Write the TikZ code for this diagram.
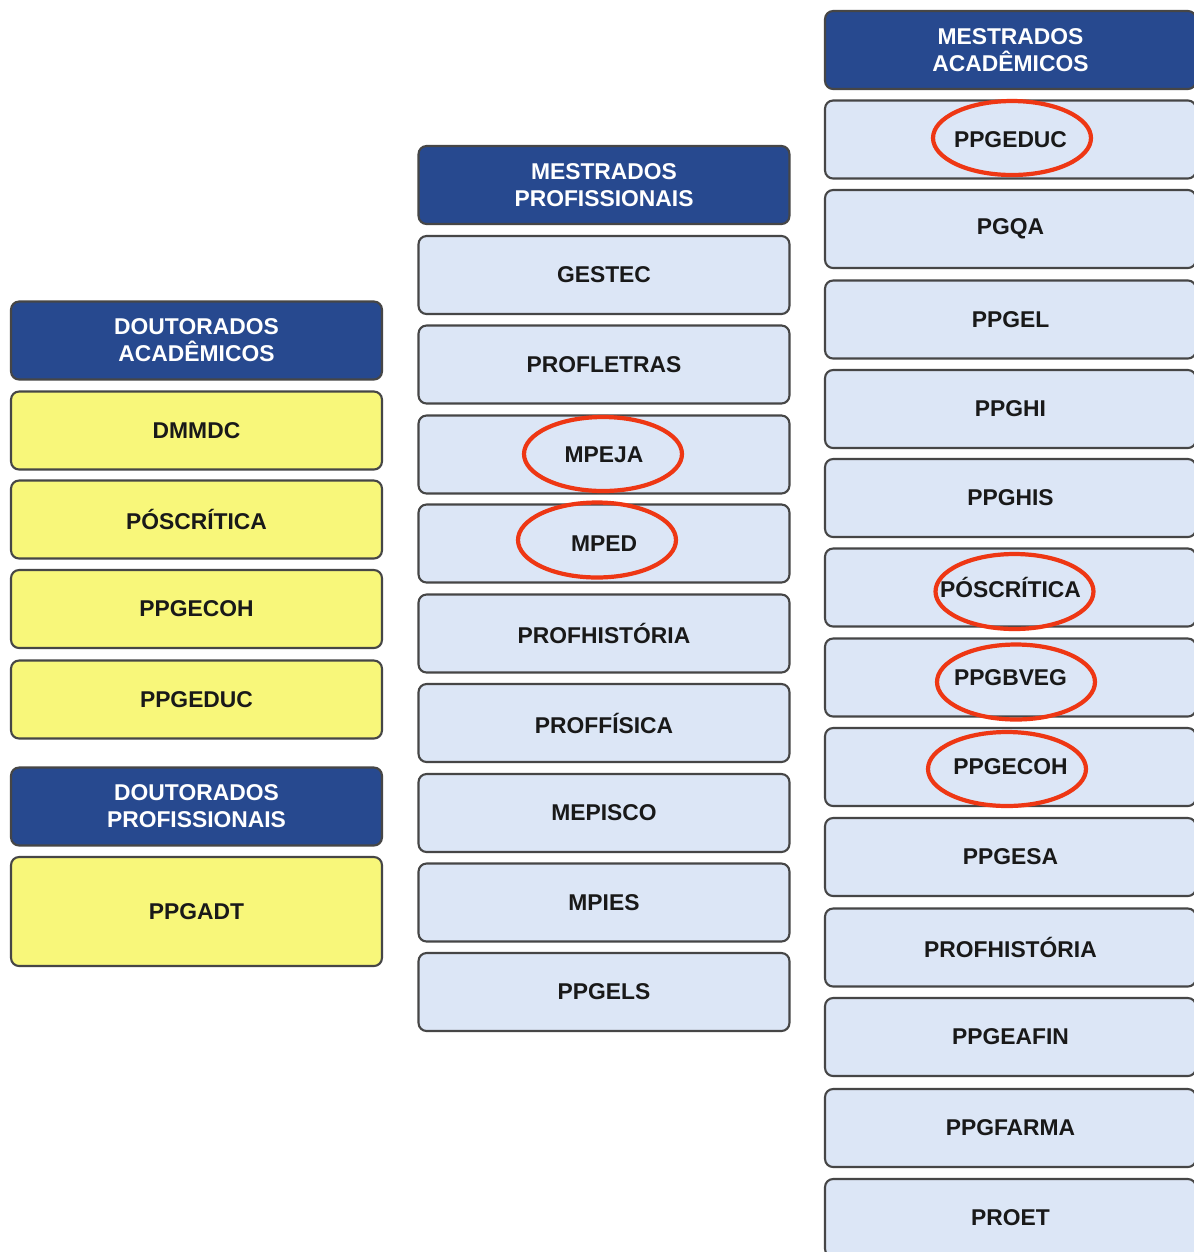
\documentclass[tikz,border=0pt]{standalone}
\usepackage{fontspec}
\setmainfont{Liberation Sans}
\usetikzlibrary{shapes}

\definecolor{azulcab}{RGB}{39,73,143}
\definecolor{azulcaixa}{RGB}{220,230,246}
\definecolor{amarelo}{RGB}{248,247,122}
\definecolor{vermelho}{RGB}{238,55,20}
\definecolor{borda}{RGB}{70,70,70}

\tikzset{
  caixa/.style={draw=borda,line width=1.2pt,rounded corners=0.16cm,minimum width=7.42cm,minimum height=1.56cm,
    font=\fontsize{13}{14}\selectfont\bfseries,text=black!90,align=center},
  titulo/.style={caixa,fill=azulcab,text=white,font=\fontsize{13}{15.5}\selectfont\bfseries},
  doutorado/.style={caixa,fill=amarelo},
  mestrado/.style={caixa,fill=azulcaixa},
  marca/.style={draw=vermelho,line width=2.4pt}
}

\begin{document}
\begin{tikzpicture}[x=0.02cm,y=-0.02cm]
\clip (0,0) rectangle (1194,1252);
\fill[white] (0,0) rectangle (1194,1252);

% doutorados
\node[titulo] (da) at (196.5,340.5) {DOUTORADOS\\ACADÊMICOS};
\node[doutorado] (da1) at (196.5,430.5) {DMMDC};
\node[doutorado] (da2) at (196.5,519.5) {PÓSCRÍTICA};
\node[doutorado] (da3) at (196.5,609) {PPGECOH};
\node[doutorado] (da4) at (196.5,699.5) {PPGEDUC};

\node[titulo] (dp) at (196.5,806.5) {DOUTORADOS\\PROFISSIONAIS};
\node[doutorado,minimum height=2.18cm] (dp1) at (196.5,911.5) {PPGADT};

% mestrados profissionais
\node[titulo] (mp) at (604,185) {MESTRADOS\\PROFISSIONAIS};
\node[mestrado] (mp1) at (604,275) {GESTEC};
\node[mestrado] (mp2) at (604,364.5) {PROFLETRAS};
\node[mestrado] (mp3) at (604,454.5) {MPEJA};
\node[mestrado] (mp4) at (604,543.5) {MPED};
\node[mestrado] (mp5) at (604,633.5) {PROFHISTÓRIA};
\node[mestrado] (mp6) at (604,723) {PROFFÍSICA};
\node[mestrado] (mp7) at (604,813) {MEPISCO};
\node[mestrado] (mp8) at (604,902.5) {MPIES};
\node[mestrado] (mp9) at (604,992) {PPGELS};

% mestrados academicos
\node[titulo] (ma) at (1010.5,50) {MESTRADOS\\ACADÊMICOS};
\node[mestrado] (ma1) at (1010.5,139.5) {PPGEDUC};
\node[mestrado] (ma2) at (1010.5,229) {PGQA};
\node[mestrado] (ma3) at (1010.5,319.5) {PPGEL};
\node[mestrado] (ma4) at (1010.5,409) {PPGHI};
\node[mestrado] (ma5) at (1010.5,498) {PPGHIS};
\node[mestrado] (ma6) at (1010.5,587.5) {PÓSCRÍTICA};
\node[mestrado] (ma7) at (1010.5,677.5) {PPGBVEG};
\node[mestrado] (ma8) at (1010.5,767) {PPGECOH};
\node[mestrado] (ma9) at (1010.5,857) {PPGESA};
\node[mestrado] (ma10) at (1010.5,947.5) {PROFHISTÓRIA};
\node[mestrado] (ma11) at (1010.5,1037) {PPGEAFIN};
\node[mestrado] (ma12) at (1010.5,1128) {PPGFARMA};
\node[mestrado] (ma13) at (1010.5,1218) {PROET};

% marcas
\draw[marca] (603,454) ellipse (1.58cm and 0.74cm);
\draw[marca] (597,540) ellipse (1.58cm and 0.75cm);
\draw[marca] (1012,138) ellipse (1.58cm and 0.74cm);
\draw[marca] (1014.5,591.5) ellipse (1.58cm and 0.75cm);
\draw[marca] (1016,682) ellipse (1.58cm and 0.75cm);
\draw[marca] (1007,769) ellipse (1.58cm and 0.74cm);

\end{tikzpicture}
\end{document}
